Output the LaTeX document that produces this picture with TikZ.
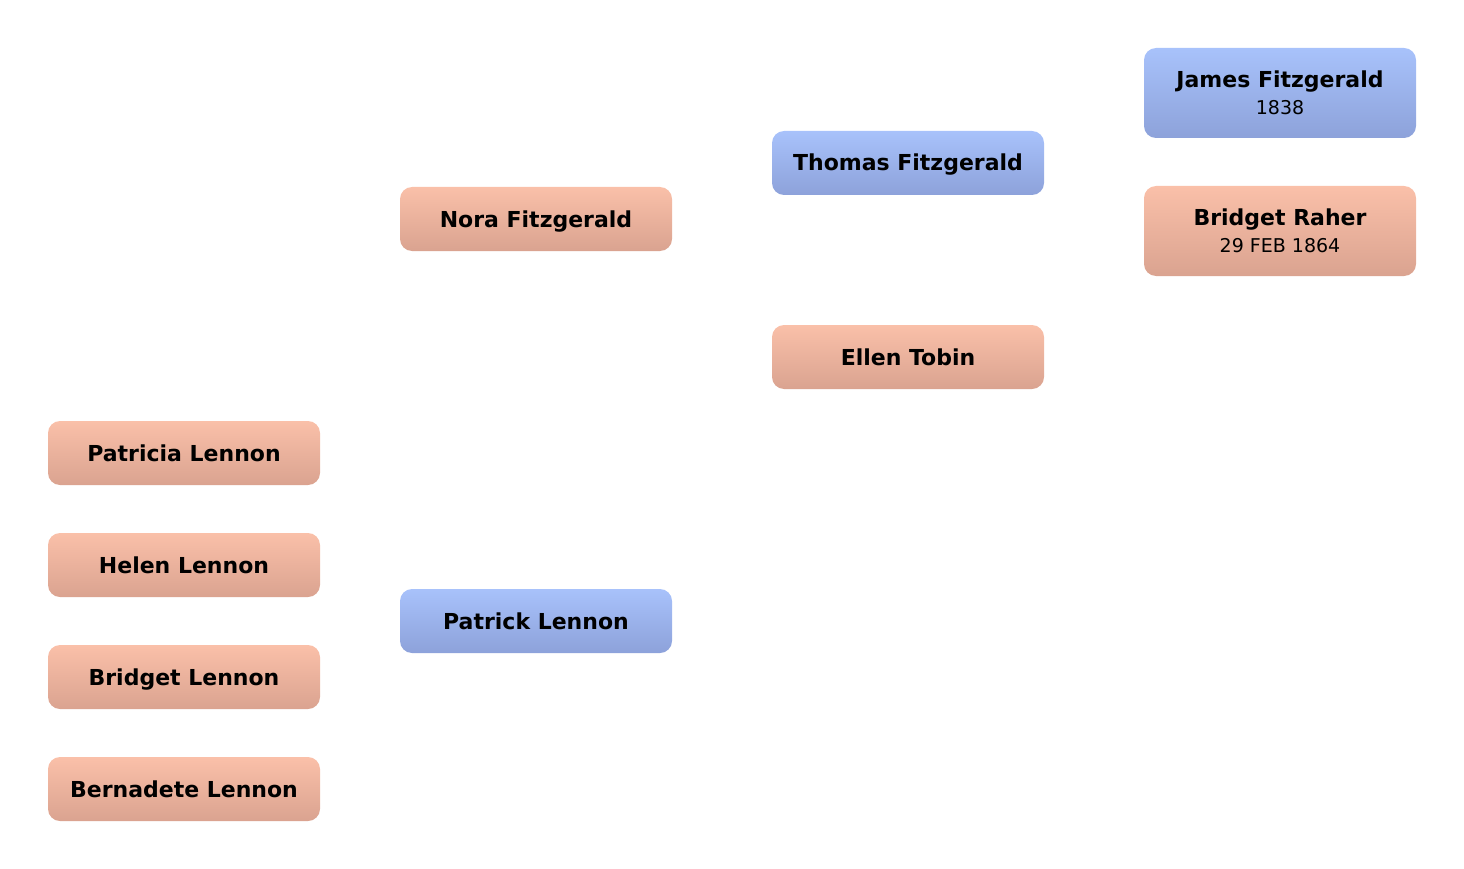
\documentclass[tikz,border=0pt]{standalone}
\usepackage{fontspec}
\setmainfont{DejaVu Sans}
\begin{document}
\begin{tikzpicture}[x=1pt,y=-1pt,
  person/.style={rounded corners=12pt, minimum width=272pt, inner sep=0pt, align=center, font=\fontsize{22}{26}\selectfont\bfseries},
  male/.style={person, top color=maleTop, bottom color=maleBot},
  female/.style={person, top color=femTop, bottom color=femBot},
  short/.style={minimum height=64pt, text height=16pt, text depth=0pt},
  tall/.style={minimum height=90pt}]
\definecolor{maleTop}{HTML}{A8C2FB}
\definecolor{maleBot}{HTML}{8DA2DA}
\definecolor{femTop}{HTML}{FAC0A9}
\definecolor{femBot}{HTML}{DAA390}
\useasboundingbox (0,0) rectangle (1464,869);
\node[male,tall] (james) at (1280,93) {James Fitzgerald\\[1pt]{\fontsize{19}{22}\selectfont\mdseries 1838}};
\node[female,tall] (bridgetr) at (1280,231) {Bridget Raher\\[1pt]{\fontsize{19}{22}\selectfont\mdseries 29 FEB 1864}};
\node[male,short] (thomas) at (908,163) {Thomas Fitzgerald};
\node[female,short] (ellen) at (908,357) {Ellen Tobin};
\node[female,short] (nora) at (536,219) {Nora Fitzgerald};
\node[male,short] (patrick) at (536,621) {Patrick Lennon};
\node[female,short] (patricia) at (184,453) {Patricia Lennon};
\node[female,short] (helen) at (184,565) {Helen Lennon};
\node[female,short] (bridgetl) at (184,677) {Bridget Lennon};
\node[female,short] (bernadete) at (184,789) {Bernadete Lennon};
\end{tikzpicture}
\end{document}
